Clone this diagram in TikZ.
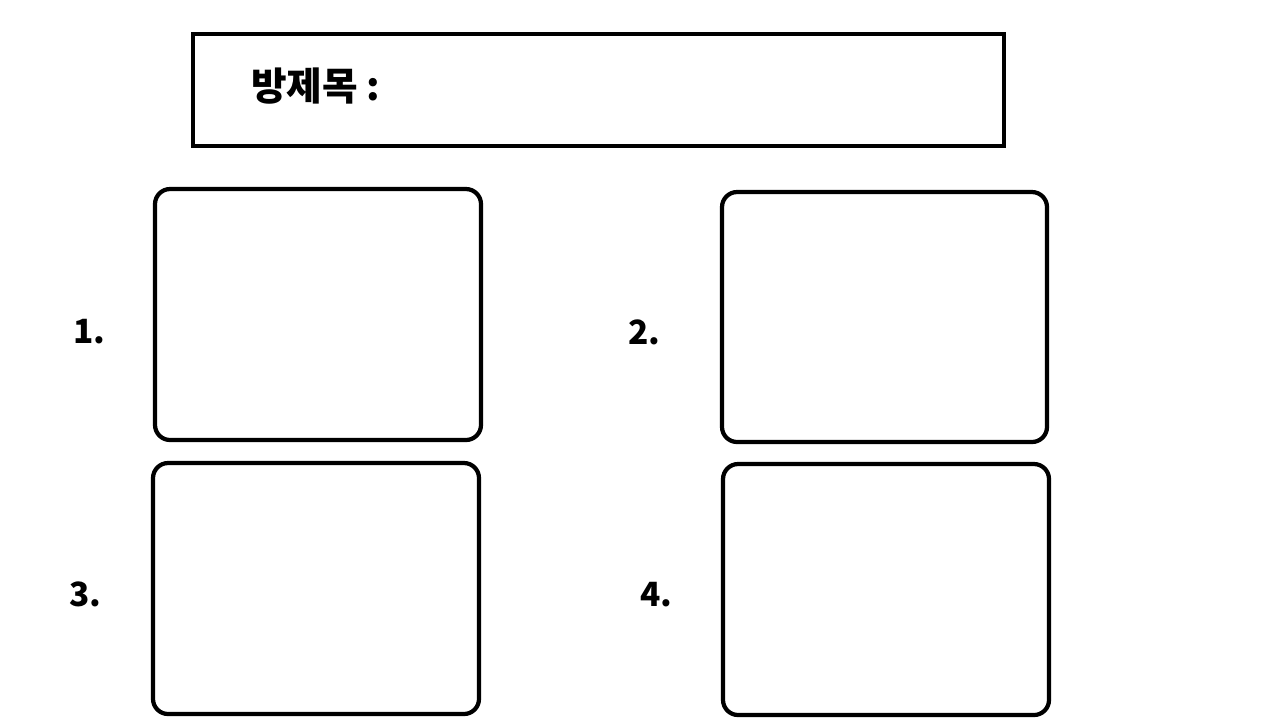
\documentclass[tikz,border=0pt]{standalone}
\usepackage{fontspec}
\setmainfont{Noto Sans CJK KR}
\begin{document}
\begin{tikzpicture}[x=0.01cm,y=-0.01cm,line width=1.2pt,
   lbl/.style={anchor=base west,inner sep=0pt,font=\fontsize{9.5pt}{12pt}\selectfont\bfseries},
   card/.style={rounded corners=4.3pt}]
   \useasboundingbox (0,0) rectangle (1280,720) ;
   %\draw[very thin,gray,step=100] (0,0) grid (1280,720) ;
   % title box
   \draw (193,34) rectangle (1004,146) ;
   \node[lbl,font=\fontsize{11pt}{13pt}\selectfont\bfseries] (title) at (249,100) {방제목 :} ;
   % the four boxes
   \draw[card] (155,189) rectangle (481,440) ;
   \draw[card] (722,192) rectangle (1047,442) ;
   \draw[card] (153,463) rectangle (479,714) ;
   \draw[card] (723,464) rectangle (1049,715) ;
   \node[lbl] (one) at (71,343) {1.} ;
   \node[lbl] (two) at (626,344) {2.} ;
   \node[lbl] (three) at (67,606) {3.} ;
   \node[lbl] (four) at (638,606) {4.} ;
\end{tikzpicture}
\end{document}
